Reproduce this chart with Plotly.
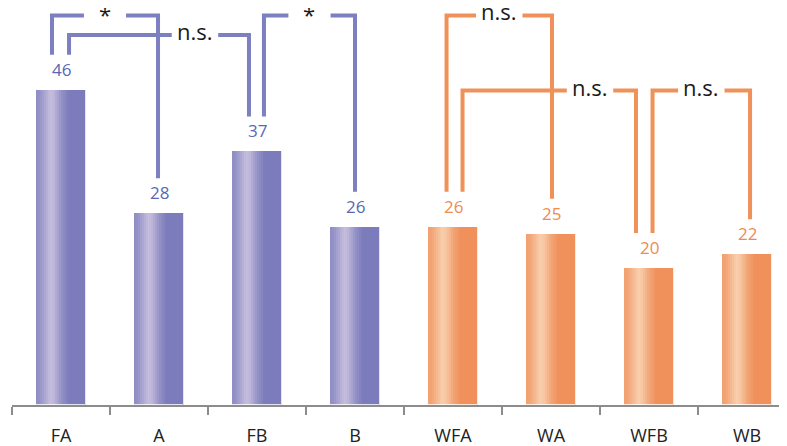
import plotly.graph_objects as go

# ---- data ----
categories = ["FA", "A", "FB", "B", "WFA", "WA", "WFB", "WB"]
values = [46, 28, 37, 26, 26, 25, 20, 22]
group = ["P", "P", "P", "P", "O", "O", "O", "O"]

# significance brackets: (left idx, right idx, label, level)
bracket_pairs = [(0, 1), (0, 2), (2, 3), (4, 5), (4, 6), (6, 7)]
bracket_labels = ["*", "n.s.", "*", "n.s.", "n.s.", "n.s."]
bracket_levels = [56.84, 53.99, 56.84, 56.84, 45.89, 45.89]

# ---- styling ----
DARK = {"P": (124, 124, 188), "O": (240, 144, 90)}
LIGHT = {"P": (198, 190, 222), "O": (250, 206, 172)}
LINE = {"P": "#7c7fc0", "O": "#f0915a"}
LABEL = {"P": "#5868b3", "O": "#ef8a52"}
FONT = "Open Sans, Noto Sans, DejaVu Sans, sans-serif"

BAR_W = 0.505
N_STRIPS = 26
profile = [(0.0, 0.25), (0.08, 0.35), (0.28, 1.0), (0.36, 0.9), (0.5, 0.35), (0.65, 0.0), (1.0, 0.0)]


def prof(t):
    for (t0, v0), (t1, v1) in zip(profile[:-1], profile[1:]):
        if t0 <= t <= t1:
            return v0 + (v1 - v0) * (t - t0) / (t1 - t0)
    return 0.0


def mix(g, f):
    d, l = DARK[g], LIGHT[g]
    return "rgb(%d,%d,%d)" % tuple(round(d[k] + (l[k] - d[k]) * f) for k in range(3))


xs = list(range(len(categories)))
fig = go.Figure()

sw = BAR_W / N_STRIPS
for i in range(N_STRIPS):
    t = (i + 0.5) / N_STRIPS
    f = prof(t)
    fig.add_trace(go.Bar(
        x=xs, y=values, base=0,
        width=sw * 1.35, offset=-BAR_W / 2 + i * sw,
        marker=dict(color=[mix(g, f) for g in group], line=dict(width=0)),
        hoverinfo="skip", showlegend=False,
    ))
# thin light outline
fig.add_trace(go.Bar(
    x=xs, y=values, base=0, width=BAR_W + 0.004, offset=-BAR_W / 2 - 0.002,
    marker=dict(color="rgba(0,0,0,0)", line=dict(width=1, color="rgba(255,255,255,0.8)")),
    hoverinfo="skip", showlegend=False,
))

# value labels
for x, v, g in zip(xs, values, group):
    fig.add_annotation(x=x, y=v, text=str(v), showarrow=False, yanchor="bottom",
                       yshift=7, font=dict(family=FONT, size=17, color=LABEL[g]))

# brackets
leg_offsets = [(-0.092, -0.01), (0.082, -0.082), (0.071, 0.0),
               (-0.066, 0.01), (0.097, -0.133), (0.036, 0.031)]
text_pos = [None, 1.367, None, None, 5.398, None]
LEG_GAP = 5.1
for (a, b), lab, lev, (oa, ob), tp in zip(bracket_pairs, bracket_labels, bracket_levels,
                                          leg_offsets, text_pos):
    g = group[a]
    xl, xr = a + oa, b + ob
    tx = tp if tp is not None else (xl + xr) / 2
    half = 0.215 if lab == "*" else 0.237
    px = [xl, xl, tx - half, None, tx + half, xr, xr]
    py = [values[a] + LEG_GAP, lev, lev, None, lev, lev, values[b] + LEG_GAP]
    fig.add_trace(go.Scatter(x=px, y=py, mode="lines",
                             line=dict(color=LINE[g], width=4),
                             hoverinfo="skip", showlegend=False, cliponaxis=False))
    fig.add_annotation(x=tx, y=lev, text=lab, showarrow=False, yanchor="middle",
                       yshift=(1 if lab == "*" else 4),
                       font=dict(family=FONT, size=22, color="#1a1a1a"))

# the page body has an 8px margin, so the figure is sized/offset to compensate
fig.update_layout(
    width=779, height=438,
    margin=dict(l=4, r=0, t=0, b=41),
    paper_bgcolor="white", plot_bgcolor="white",
    barmode="overlay", bargap=0,
    xaxis=dict(
        range=[-0.5, 7.408], tickmode="array", tickvals=xs, ticktext=categories,
        ticks="", showgrid=False, zeroline=False,
        showline=True, linecolor="#8c8c8c", linewidth=2,
        tickfont=dict(family=FONT, size=18, color="#222222"),
        ticklabelstandoff=13,
        minor=dict(tickvals=[x - 0.5 for x in range(len(categories) + 1)],
                   ticks="outside", ticklen=8, tickwidth=2, tickcolor="#8c8c8c",
                   showgrid=False),
        fixedrange=True,
    ),
    yaxis=dict(range=[0, 57.93], visible=False, fixedrange=True),
)

fig.write_html("out.html")
